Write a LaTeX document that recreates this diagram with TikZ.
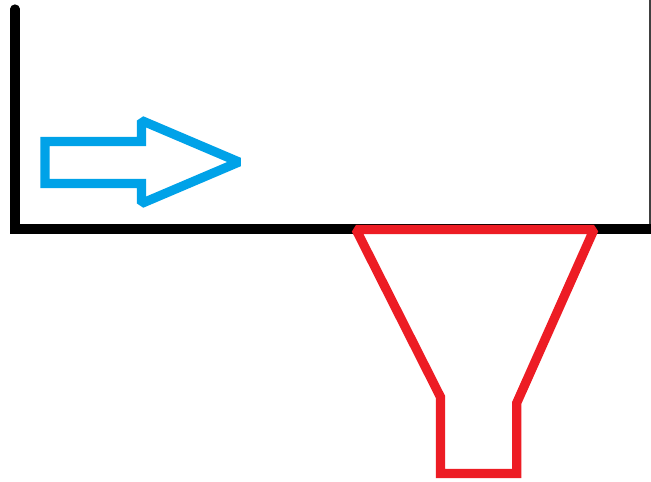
\documentclass[tikz,border=0pt]{standalone}
\definecolor{myblue}{RGB}{0,162,232}
\definecolor{myred}{RGB}{237,28,36}
\tikzset{sk/.style={line width=6.9pt,line join=miter,miter limit=1.5,line cap=round}}
\begin{document}
\begin{tikzpicture}[x=0.75pt,y=-0.75pt]
\useasboundingbox (0,0) rectangle (651,482);
\fill[white] (0,0) rectangle (651,482);
\draw[line width=1.5pt,black!75] (650,0) -- (650,225);
\draw[sk,black] (15,9) -- (15,229) -- (655,229);
\draw[sk,myblue] (45,141.5) -- (141.5,141.5) -- (141.5,120.5) -- (239,162) -- (141.5,203.5) -- (141.5,183.5) -- (45,183.5) -- cycle;
\draw[sk,myred] (356,229.5) -- (594,229.5) -- (516.7,403) -- (516.7,473.5) -- (440.5,473.5) -- (440.5,397) -- cycle;
\end{tikzpicture}
\end{document}
